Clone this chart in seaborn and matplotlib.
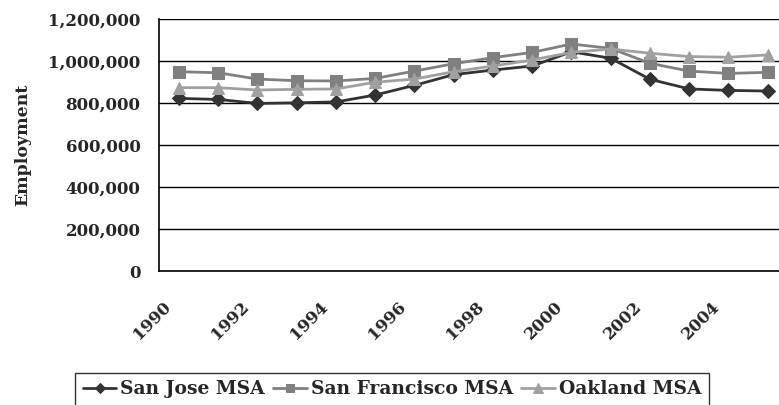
import matplotlib
matplotlib.use("Agg")
import matplotlib.pyplot as plt
import matplotlib.ticker as mticker
import matplotlib.transforms as mtransforms
import numpy as np
import pandas as pd
import seaborn as sns

years = list(range(1990, 2006))
san_jose = [822000, 817000, 798000, 801000, 805000, 838000, 884000, 935000,
            957000, 976000, 1044000, 1013000, 913000, 867000, 860000, 857000]
san_francisco = [949000, 944000, 914000, 906000, 905000, 917000, 952000, 987000,
                 1016000, 1041000, 1081000, 1060000, 989000, 952000, 941000, 946000]
oakland = [873000, 873000, 862000, 865000, 867000, 899000, 914000, 949000,
           976000, 1005000, 1041000, 1057000, 1037000, 1021000, 1018000, 1029000]
series_names = ["San Jose MSA", "San Francisco MSA", "Oakland MSA"]
year_labels = [str(y) if y % 2 == 0 else "" for y in years]

sns.set_style("white")
FONT = ["DejaVu Serif", "Liberation Serif"]
plt.rcParams["font.family"] = FONT
plt.rcParams["font.weight"] = "bold"

idx = np.arange(len(years))
df = pd.concat([
    pd.DataFrame({"pos": idx, "value": vals, "series": name})
    for name, vals in zip(series_names, [san_jose, san_francisco, oakland])
])

fig = plt.figure(figsize=(7.79, 4.05), dpi=100)
W, H = 779, 405
ax = fig.add_axes([159.3 / W, 1 - 271 / H, (787.3 - 159.3) / W, (271 - 19) / H])

palette = {"San Jose MSA": "#333333", "San Francisco MSA": "#808080", "Oakland MSA": "#a0a0a0"}
markers = {"San Jose MSA": "D", "San Francisco MSA": "s", "Oakland MSA": "^"}
sizes_ = {"San Jose MSA": 7, "San Francisco MSA": 8, "Oakland MSA": 9}

for name in series_names:
    sub = df[df["series"] == name]
    sns.lineplot(data=sub, x="pos", y="value", ax=ax, color=palette[name],
                 marker=markers[name], markersize=sizes_[name],
                 markeredgecolor=palette[name], linewidth=2, label=name,
                 legend=False)

ax.set_xlim(-0.5, len(years) - 0.5)
ax.set_ylim(0, 1200000)
ax.yaxis.set_major_locator(mticker.MultipleLocator(200000))
ax.yaxis.set_major_formatter(mticker.FuncFormatter(lambda v, p: f"{int(v):,}"))
ax.grid(axis="y", color="black", linewidth=1)
ax.set_axisbelow(True)

ax.set_xticks(idx)
ax.set_xticks(np.arange(-0.5, len(years)), minor=True)
ax.tick_params(axis="x", which="major", length=0, pad=24)
ax.tick_params(axis="x", which="minor", length=5, width=1, color="black", direction="out")
ax.tick_params(axis="y", length=5.5, width=1, color="black", direction="out",
               labelsize=12, pad=8)
ax.set_xticklabels(year_labels, rotation=45, ha="right", va="center",
                   rotation_mode="anchor", fontsize=12, fontweight="bold")
# nudge the rotated year labels left so their ends sit under the categories
shift = mtransforms.ScaledTranslation(-11 / 100, 0, fig.dpi_scale_trans)
for lab in ax.get_xticklabels():
    lab.set_transform(lab.get_transform() + shift)
for lab in ax.get_yticklabels():
    lab.set_fontweight("bold")

ax.set_xlabel("")
ax.set_ylabel("Employment", fontsize=12.5, fontweight="bold", labelpad=12)

for side in ["top", "right"]:
    ax.spines[side].set_visible(False)
for side in ["left", "bottom"]:
    ax.spines[side].set_color("black")
    ax.spines[side].set_linewidth(1.2)

handles, labels = ax.get_legend_handles_labels()
leg = fig.legend(handles, labels, loc="upper center", bbox_to_anchor=(392 / W, 1 - 373 / H),
                 ncol=3, frameon=True, fancybox=False, edgecolor="black",
                 prop={"family": FONT, "weight": "bold", "size": 13.5},
                 handlelength=1.8, handletextpad=0.2, columnspacing=0.45,
                 borderpad=0.4, borderaxespad=0, markerscale=0.8)
leg.get_frame().set_linewidth(1)

fig.savefig("out.png", dpi=100)
